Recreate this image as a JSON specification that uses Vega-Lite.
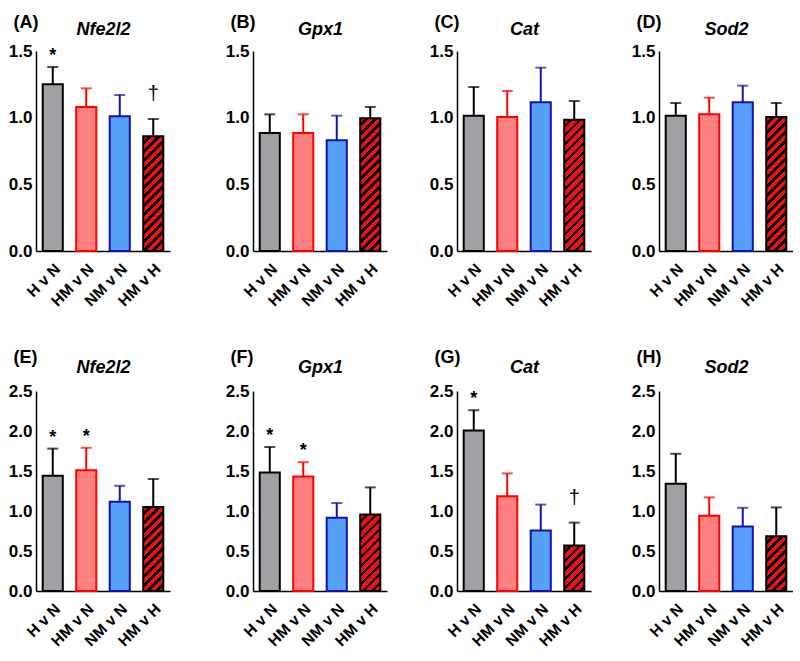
{
"$schema":"https://vega.github.io/schema/vega-lite/v6.json",
"padding":{"left":8,"top":13,"right":0,"bottom":0},
"background":"white",
"data":{"values":[
{"p":"A","g":"H v N","m":1.25,"u":1.38,"s":"*"},
{"p":"A","g":"HM v N","m":1.08,"u":1.22},
{"p":"A","g":"NM v N","m":1.01,"u":1.17},
{"p":"A","g":"HM v H","m":0.86,"u":0.99,"s":"†"},
{"p":"B","g":"H v N","m":0.885,"u":1.025},
{"p":"B","g":"HM v N","m":0.885,"u":1.025},
{"p":"B","g":"NM v N","m":0.83,"u":1.015},
{"p":"B","g":"HM v H","m":0.995,"u":1.08},
{"p":"C","g":"H v N","m":1.015,"u":1.23},
{"p":"C","g":"HM v N","m":1.005,"u":1.2},
{"p":"C","g":"NM v N","m":1.115,"u":1.375},
{"p":"C","g":"HM v H","m":0.985,"u":1.125},
{"p":"D","g":"H v N","m":1.015,"u":1.11},
{"p":"D","g":"HM v N","m":1.025,"u":1.15},
{"p":"D","g":"NM v N","m":1.115,"u":1.24},
{"p":"D","g":"HM v H","m":1.005,"u":1.11},
{"p":"E","g":"H v N","m":1.44,"u":1.78,"s":"*"},
{"p":"E","g":"HM v N","m":1.51,"u":1.79,"s":"*"},
{"p":"E","g":"NM v N","m":1.115,"u":1.315},
{"p":"E","g":"HM v H","m":1.05,"u":1.4},
{"p":"F","g":"H v N","m":1.48,"u":1.8,"s":"*"},
{"p":"F","g":"HM v N","m":1.43,"u":1.61,"s":"*"},
{"p":"F","g":"NM v N","m":0.915,"u":1.1},
{"p":"F","g":"HM v H","m":0.955,"u":1.295},
{"p":"G","g":"H v N","m":2.005,"u":2.26,"s":"*"},
{"p":"G","g":"HM v N","m":1.185,"u":1.47},
{"p":"G","g":"NM v N","m":0.755,"u":1.08},
{"p":"G","g":"HM v H","m":0.57,"u":0.855,"s":"†"},
{"p":"H","g":"H v N","m":1.34,"u":1.715},
{"p":"H","g":"HM v N","m":0.94,"u":1.17},
{"p":"H","g":"NM v N","m":0.805,"u":1.04},
{"p":"H","g":"HM v H","m":0.685,"u":1.045}
]},
"params":[{"name":"hatch","value":[
{"offset":0,"color":"#e11"},{"offset":0.0333,"color":"#e11"},{"offset":0.0333,"color":"#000"},{"offset":0.0556,"color":"#000"},
{"offset":0.0556,"color":"#e11"},{"offset":0.0889,"color":"#e11"},{"offset":0.0889,"color":"#000"},{"offset":0.1111,"color":"#000"},
{"offset":0.1111,"color":"#e11"},{"offset":0.1444,"color":"#e11"},{"offset":0.1444,"color":"#000"},{"offset":0.1667,"color":"#000"},
{"offset":0.1667,"color":"#e11"},{"offset":0.2,"color":"#e11"},{"offset":0.2,"color":"#000"},{"offset":0.2222,"color":"#000"},
{"offset":0.2222,"color":"#e11"},{"offset":0.2556,"color":"#e11"},{"offset":0.2556,"color":"#000"},{"offset":0.2778,"color":"#000"},
{"offset":0.2778,"color":"#e11"},{"offset":0.3111,"color":"#e11"},{"offset":0.3111,"color":"#000"},{"offset":0.3333,"color":"#000"},
{"offset":0.3333,"color":"#e11"},{"offset":0.3667,"color":"#e11"},{"offset":0.3667,"color":"#000"},{"offset":0.3889,"color":"#000"},
{"offset":0.3889,"color":"#e11"},{"offset":0.4222,"color":"#e11"},{"offset":0.4222,"color":"#000"},{"offset":0.4444,"color":"#000"},
{"offset":0.4444,"color":"#e11"},{"offset":0.4778,"color":"#e11"},{"offset":0.4778,"color":"#000"},{"offset":0.5,"color":"#000"},
{"offset":0.5,"color":"#e11"},{"offset":0.5333,"color":"#e11"},{"offset":0.5333,"color":"#000"},{"offset":0.5556,"color":"#000"},
{"offset":0.5556,"color":"#e11"},{"offset":0.5889,"color":"#e11"},{"offset":0.5889,"color":"#000"},{"offset":0.6111,"color":"#000"},
{"offset":0.6111,"color":"#e11"},{"offset":0.6444,"color":"#e11"},{"offset":0.6444,"color":"#000"},{"offset":0.6667,"color":"#000"},
{"offset":0.6667,"color":"#e11"},{"offset":0.7,"color":"#e11"},{"offset":0.7,"color":"#000"},{"offset":0.7222,"color":"#000"},
{"offset":0.7222,"color":"#e11"},{"offset":0.7556,"color":"#e11"},{"offset":0.7556,"color":"#000"},{"offset":0.7778,"color":"#000"},
{"offset":0.7778,"color":"#e11"},{"offset":0.8111,"color":"#e11"},{"offset":0.8111,"color":"#000"},{"offset":0.8333,"color":"#000"},
{"offset":0.8333,"color":"#e11"},{"offset":0.8667,"color":"#e11"},{"offset":0.8667,"color":"#000"},{"offset":0.8889,"color":"#000"},
{"offset":0.8889,"color":"#e11"},{"offset":0.9222,"color":"#e11"},{"offset":0.9222,"color":"#000"},{"offset":0.9444,"color":"#000"},
{"offset":0.9444,"color":"#e11"},{"offset":0.9778,"color":"#e11"},{"offset":0.9778,"color":"#000"},{"offset":1,"color":"#000"}
]}],
"spacing":38,
"vconcat":[
{"spacing":55,"hconcat":[
{"width":134,"height":200,"transform":[{"filter":"datum.p=='A'"}],
"encoding":{"x":{"field":"g","type":"nominal","sort":["H v N","HM v N","NM v N","HM v H"],"scale":{"paddingInner":0.4,"paddingOuter":0.2},"title":"(A)"},
"y":{"field":"m","type":"quantitative","title":"Nfe2l2","scale":{"domain":[0,1.5],"nice":false},"axis":{"values":[0,0.5,1,1.5],"format":".1f"}}},
"layer":[
{"mark":{"type":"rule","strokeWidth":2},"encoding":{"y2":{"field":"u","title":"Nfe2l2"},"color":{"field":"g","type":"nominal","scale":{"domain":["H v N","HM v N","NM v N","HM v H"],"range":["#000","#f00","#1212b0","#000"]},"legend":null}}},
{"mark":{"type":"tick","thickness":2,"size":11},"encoding":{"y":{"field":"u","type":"quantitative","title":"Nfe2l2"},"color":{"field":"g","type":"nominal","legend":null}}},
{"transform":[{"filter":"datum.g!='HM v H'"}],"mark":{"type":"bar","strokeWidth":2},"encoding":{"fill":{"field":"g","type":"nominal","scale":{"domain":["H v N","HM v N","NM v N","HM v H"],"range":["#a1a1a5","#ff8080","#56a0f7","#000"]},"legend":null},"stroke":{"field":"g","type":"nominal","scale":{"domain":["H v N","HM v N","NM v N","HM v H"],"range":["#000","#f00","#1212b0","#000"]},"legend":null}}},
{"transform":[{"filter":"datum.g=='HM v H'"}],"mark":{"type":"bar","strokeWidth":2,"stroke":"#000","fill":{"expr":"{gradient:'linear',x1:0,y1:0,x2:0.24,y2:1.37,stops:hatch}"}}},
{"transform":[{"filter":"datum.s=='*'"}],"mark":{"type":"text","dy":-6,"fontSize":18,"fontWeight":"bold","baseline":"alphabetic"},"encoding":{"y":{"field":"u","type":"quantitative","title":"Nfe2l2"},"text":{"field":"s"}}},
{"transform":[{"filter":"datum.s=='†'"}],"mark":{"type":"text","dy":-19,"fontSize":20,"baseline":"alphabetic"},"encoding":{"y":{"field":"u","type":"quantitative","title":"Nfe2l2"},"text":{"field":"s"}}}
]},
{"spacing":42,"hconcat":[
{"width":134,"height":200,"transform":[{"filter":"datum.p=='B'"}],
"encoding":{"x":{"field":"g","type":"nominal","sort":["H v N","HM v N","NM v N","HM v H"],"scale":{"paddingInner":0.4,"paddingOuter":0.2},"title":"(B)"},
"y":{"field":"m","type":"quantitative","title":"Gpx1","scale":{"domain":[0,1.5],"nice":false},"axis":{"values":[0,0.5,1,1.5],"format":".1f"}}},
"layer":[
{"mark":{"type":"rule","strokeWidth":2},"encoding":{"y2":{"field":"u","title":"Gpx1"},"color":{"field":"g","type":"nominal","legend":null}}},
{"mark":{"type":"tick","thickness":2,"size":11},"encoding":{"y":{"field":"u","type":"quantitative","title":"Gpx1"},"color":{"field":"g","type":"nominal","legend":null}}},
{"transform":[{"filter":"datum.g!='HM v H'"}],"mark":{"type":"bar","strokeWidth":2},"encoding":{"fill":{"field":"g","type":"nominal","legend":null},"stroke":{"field":"g","type":"nominal","legend":null}}},
{"transform":[{"filter":"datum.g=='HM v H'"}],"mark":{"type":"bar","strokeWidth":2,"stroke":"#000","fill":{"expr":"{gradient:'linear',x1:0,y1:0,x2:0.181,y2:1.193,stops:hatch}"}}}
]},
{"spacing":40,"hconcat":[
{"width":134,"height":200,"transform":[{"filter":"datum.p=='C'"}],
"encoding":{"x":{"field":"g","type":"nominal","sort":["H v N","HM v N","NM v N","HM v H"],"scale":{"paddingInner":0.4,"paddingOuter":0.2},"title":"(C)"},
"y":{"field":"m","type":"quantitative","title":"Cat","scale":{"domain":[0,1.5],"nice":false},"axis":{"values":[0,0.5,1,1.5],"format":".1f"}}},
"layer":[
{"mark":{"type":"rule","strokeWidth":2},"encoding":{"y2":{"field":"u","title":"Cat"},"color":{"field":"g","type":"nominal","legend":null}}},
{"mark":{"type":"tick","thickness":2,"size":11},"encoding":{"y":{"field":"u","type":"quantitative","title":"Cat"},"color":{"field":"g","type":"nominal","legend":null}}},
{"transform":[{"filter":"datum.g!='HM v H'"}],"mark":{"type":"bar","strokeWidth":2},"encoding":{"fill":{"field":"g","type":"nominal","legend":null},"stroke":{"field":"g","type":"nominal","legend":null}}},
{"transform":[{"filter":"datum.g=='HM v H'"}],"mark":{"type":"bar","strokeWidth":2,"stroke":"#000","fill":{"expr":"{gradient:'linear',x1:0,y1:0,x2:0.1845,y2:1.2056,stops:hatch}"}}}
]},
{"width":134,"height":200,"transform":[{"filter":"datum.p=='D'"}],
"encoding":{"x":{"field":"g","type":"nominal","sort":["H v N","HM v N","NM v N","HM v H"],"scale":{"paddingInner":0.4,"paddingOuter":0.2},"title":"(D)"},
"y":{"field":"m","type":"quantitative","title":"Sod2","scale":{"domain":[0,1.5],"nice":false},"axis":{"values":[0,0.5,1,1.5],"format":".1f"}}},
"layer":[
{"mark":{"type":"rule","strokeWidth":2},"encoding":{"y2":{"field":"u","title":"Sod2"},"color":{"field":"g","type":"nominal","legend":null}}},
{"mark":{"type":"tick","thickness":2,"size":11},"encoding":{"y":{"field":"u","type":"quantitative","title":"Sod2"},"color":{"field":"g","type":"nominal","legend":null}}},
{"transform":[{"filter":"datum.g!='HM v H'"}],"mark":{"type":"bar","strokeWidth":2},"encoding":{"fill":{"field":"g","type":"nominal","legend":null},"stroke":{"field":"g","type":"nominal","legend":null}}},
{"transform":[{"filter":"datum.g=='HM v H'"}],"mark":{"type":"bar","strokeWidth":2,"stroke":"#000","fill":{"expr":"{gradient:'linear',x1:0,y1:0,x2:0.1773,y2:1.1823,stops:hatch}"}}}
]}
]}
]}
]},
{"spacing":55,"hconcat":[
{"width":134,"height":200,"transform":[{"filter":"datum.p=='E'"}],
"encoding":{"x":{"field":"g","type":"nominal","sort":["H v N","HM v N","NM v N","HM v H"],"scale":{"paddingInner":0.4,"paddingOuter":0.2},"title":"(E)","axis":{"titleY":-229}},
"y":{"field":"m","type":"quantitative","title":"Nfe2l2","scale":{"domain":[0,2.5],"nice":false},"axis":{"values":[0,0.5,1,1.5,2,2.5],"format":".1f","titleY":-19}}},
"layer":[
{"mark":{"type":"rule","strokeWidth":2},"encoding":{"y2":{"field":"u","title":"Nfe2l2"},"color":{"field":"g","type":"nominal","legend":null}}},
{"mark":{"type":"tick","thickness":2,"size":11},"encoding":{"y":{"field":"u","type":"quantitative","title":"Nfe2l2"},"color":{"field":"g","type":"nominal","legend":null}}},
{"transform":[{"filter":"datum.g!='HM v H'"}],"mark":{"type":"bar","strokeWidth":2},"encoding":{"fill":{"field":"g","type":"nominal","legend":null},"stroke":{"field":"g","type":"nominal","legend":null}}},
{"transform":[{"filter":"datum.g=='HM v H'"}],"mark":{"type":"bar","strokeWidth":2,"stroke":"#000","fill":{"expr":"{gradient:'linear',x1:0,y1:0,x2:0.4365,y2:1.824,stops:hatch}"}}},
{"transform":[{"filter":"datum.s=='*'"}],"mark":{"type":"text","dy":-6,"fontSize":18,"fontWeight":"bold","baseline":"alphabetic"},"encoding":{"y":{"field":"u","type":"quantitative","title":"Nfe2l2"},"text":{"field":"s"}}}
]},
{"spacing":42,"hconcat":[
{"width":134,"height":200,"transform":[{"filter":"datum.p=='F'"}],
"encoding":{"x":{"field":"g","type":"nominal","sort":["H v N","HM v N","NM v N","HM v H"],"scale":{"paddingInner":0.4,"paddingOuter":0.2},"title":"(F)","axis":{"titleY":-229}},
"y":{"field":"m","type":"quantitative","title":"Gpx1","scale":{"domain":[0,2.5],"nice":false},"axis":{"values":[0,0.5,1,1.5,2,2.5],"format":".1f","titleY":-19}}},
"layer":[
{"mark":{"type":"rule","strokeWidth":2},"encoding":{"y2":{"field":"u","title":"Gpx1"},"color":{"field":"g","type":"nominal","legend":null}}},
{"mark":{"type":"tick","thickness":2,"size":11},"encoding":{"y":{"field":"u","type":"quantitative","title":"Gpx1"},"color":{"field":"g","type":"nominal","legend":null}}},
{"transform":[{"filter":"datum.g!='HM v H'"}],"mark":{"type":"bar","strokeWidth":2},"encoding":{"fill":{"field":"g","type":"nominal","legend":null},"stroke":{"field":"g","type":"nominal","legend":null}}},
{"transform":[{"filter":"datum.g=='HM v H'"}],"mark":{"type":"bar","strokeWidth":2,"stroke":"#000","fill":{"expr":"{gradient:'linear',x1:0,y1:0,x2:0.5217,y2:1.983,stops:hatch}"}}},
{"transform":[{"filter":"datum.s=='*'"}],"mark":{"type":"text","dy":-6,"fontSize":18,"fontWeight":"bold","baseline":"alphabetic"},"encoding":{"y":{"field":"u","type":"quantitative","title":"Gpx1"},"text":{"field":"s"}}}
]},
{"spacing":40,"hconcat":[
{"width":134,"height":200,"transform":[{"filter":"datum.p=='G'"}],
"encoding":{"x":{"field":"g","type":"nominal","sort":["H v N","HM v N","NM v N","HM v H"],"scale":{"paddingInner":0.4,"paddingOuter":0.2},"title":"(G)","axis":{"titleY":-229}},
"y":{"field":"m","type":"quantitative","title":"Cat","scale":{"domain":[0,2.5],"nice":false},"axis":{"values":[0,0.5,1,1.5,2,2.5],"format":".1f","titleY":-19}}},
"layer":[
{"mark":{"type":"rule","strokeWidth":2},"encoding":{"y2":{"field":"u","title":"Cat"},"color":{"field":"g","type":"nominal","legend":null}}},
{"mark":{"type":"tick","thickness":2,"size":11},"encoding":{"y":{"field":"u","type":"quantitative","title":"Cat"},"color":{"field":"g","type":"nominal","legend":null}}},
{"transform":[{"filter":"datum.g!='HM v H'"}],"mark":{"type":"bar","strokeWidth":2},"encoding":{"fill":{"field":"g","type":"nominal","legend":null},"stroke":{"field":"g","type":"nominal","legend":null}}},
{"transform":[{"filter":"datum.g=='HM v H'"}],"mark":{"type":"bar","strokeWidth":2,"stroke":"#000","fill":{"expr":"{gradient:'linear',x1:0,y1:0,x2:1.311,y2:2.975,stops:hatch}"}}},
{"transform":[{"filter":"datum.s=='*'"}],"mark":{"type":"text","dy":-6,"fontSize":18,"fontWeight":"bold","baseline":"alphabetic"},"encoding":{"y":{"field":"u","type":"quantitative","title":"Cat"},"text":{"field":"s"}}},
{"transform":[{"filter":"datum.s=='†'"}],"mark":{"type":"text","dy":-19,"fontSize":20,"baseline":"alphabetic"},"encoding":{"y":{"field":"u","type":"quantitative","title":"Cat"},"text":{"field":"s"}}}
]},
{"width":134,"height":200,"transform":[{"filter":"datum.p=='H'"}],
"encoding":{"x":{"field":"g","type":"nominal","sort":["H v N","HM v N","NM v N","HM v H"],"scale":{"paddingInner":0.4,"paddingOuter":0.2},"title":"(H)","axis":{"titleY":-229}},
"y":{"field":"m","type":"quantitative","title":"Sod2","scale":{"domain":[0,2.5],"nice":false},"axis":{"values":[0,0.5,1,1.5,2,2.5],"format":".1f","titleY":-19}}},
"layer":[
{"mark":{"type":"rule","strokeWidth":2},"encoding":{"y2":{"field":"u","title":"Sod2"},"color":{"field":"g","type":"nominal","legend":null}}},
{"mark":{"type":"tick","thickness":2,"size":11},"encoding":{"y":{"field":"u","type":"quantitative","title":"Sod2"},"color":{"field":"g","type":"nominal","legend":null}}},
{"transform":[{"filter":"datum.g!='HM v H'"}],"mark":{"type":"bar","strokeWidth":2},"encoding":{"fill":{"field":"g","type":"nominal","legend":null},"stroke":{"field":"g","type":"nominal","legend":null}}},
{"transform":[{"filter":"datum.g=='HM v H'"}],"mark":{"type":"bar","strokeWidth":2,"stroke":"#000","fill":{"expr":"{gradient:'linear',x1:0,y1:0,x2:0.956,y2:2.606,stops:hatch}"}}}
]}
]}
]}
]}
],
"config":{
"view":{"stroke":null},
"font":"Liberation Sans",
"axis":{"labelFont":"Liberation Sans","labelFontWeight":"bold","labelColor":"#000","domainColor":"#000","domainWidth":1.5,"ticks":false,"grid":false,"titleFont":"Liberation Sans","titleColor":"#000","titleFontWeight":"bold","titleFontSize":18,"titleAngle":0,"titleBaseline":"alphabetic","titlePadding":0},
"axisX":{"labelAngle":-45,"labelFontSize":15.5,"labelPadding":10,"titleAlign":"left","titleX":-23,"titleY":-224},
"axisY":{"labelFontSize":17,"labelPadding":4,"titleAlign":"center","titleX":67,"titleY":-17,"titleFontStyle":"italic"},
"text":{"font":"Liberation Sans","color":"#000"}
}
}
